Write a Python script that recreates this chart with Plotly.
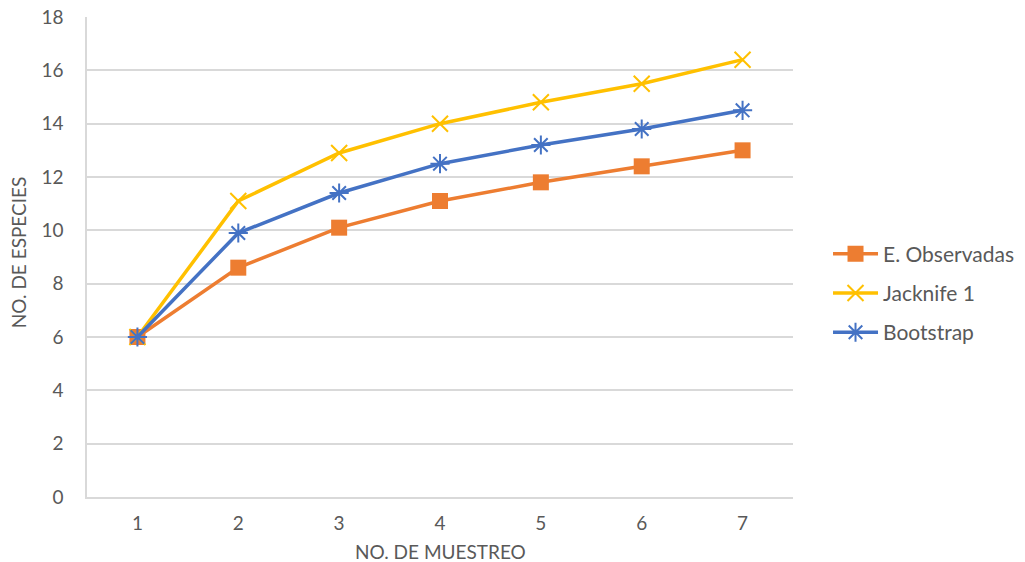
import plotly.graph_objects as go

muestreo = ["1", "2", "3", "4", "5", "6", "7"]
observadas = [6, 8.6, 10.1, 11.1, 11.8, 12.4, 13.0]
jacknife = [6, 11.1, 12.9, 14.0, 14.8, 15.5, 16.4]
bootstrap = [6, 9.9, 11.4, 12.5, 13.2, 13.8, 14.5]
y_ticks = [0, 2, 4, 6, 8, 10, 12, 14, 16, 18]

font_family = "Lato, 'Open Sans', sans-serif"
gray = "#595959"
grid = "#D9D9D9"

fig = go.Figure()
fig.add_trace(go.Scatter(
    x=muestreo, y=observadas, name="E. Observadas", mode="lines+markers",
    line=dict(color="#ED7D31", width=3.5),
    marker=dict(symbol="square", size=16, color="#ED7D31"),
    legendgroup="a"))
fig.add_trace(go.Scatter(
    x=muestreo, y=jacknife, name="Jacknife 1", mode="lines+markers",
    line=dict(color="#FFC000", width=3.5),
    marker=dict(symbol="x-thin-open", size=16, color="#FFC000",
                line=dict(color="#FFC000", width=2)),
    legendgroup="b"))
fig.add_trace(go.Scatter(
    x=muestreo, y=bootstrap, name="Bootstrap", mode="lines+markers",
    line=dict(color="#4472C4", width=3.5),
    marker=dict(symbol="asterisk-open", size=16, color="#4472C4",
                line=dict(color="#4472C4", width=2)),
    legendgroup="c"))

fig.update_layout(
    width=1025, height=562,
    margin=dict(l=87, r=232, t=17, b=65, autoexpand=False),
    paper_bgcolor="white", plot_bgcolor="white",
    font=dict(family=font_family, size=19, color=gray),
    legend=dict(x=1.0496, xanchor="left", y=0.425, yanchor="middle",
                font=dict(size=21, color=gray), tracegroupgap=9,
                itemwidth=45, bgcolor="rgba(0,0,0,0)"),
    xaxis=dict(
        type="category", range=[-0.5, 6.5], automargin=False,
        showgrid=False, showline=True, linecolor=grid, linewidth=1.5,
        ticks="", ticklabelstandoff=8,
        tickfont=dict(size=19, color=gray)),
    yaxis=dict(
        range=[0, 18], tickvals=y_ticks, automargin=False,
        showgrid=True, gridcolor=grid, gridwidth=1.5,
        showline=True, linecolor=grid, linewidth=1.5,
        zeroline=False, ticks="", ticklabelstandoff=18,
        tickfont=dict(size=19, color=gray)),
    annotations=[
        dict(text="NO. DE MUESTREO", xref="paper", yref="paper",
             x=0.5, y=-0.1125, xanchor="center", yanchor="middle",
             showarrow=False, font=dict(size=19, color=gray)),
        dict(text="NO. DE ESPECIES", xref="paper", yref="paper",
             x=-0.0977, y=0.51, xanchor="center", yanchor="middle",
             textangle=-90, showarrow=False, font=dict(size=19, color=gray)),
    ],
)

fig.write_html(
    "out.html",
    config={"displayModeBar": False},
    post_script="document.body.style.margin='0';document.body.style.overflow='hidden';",
)
